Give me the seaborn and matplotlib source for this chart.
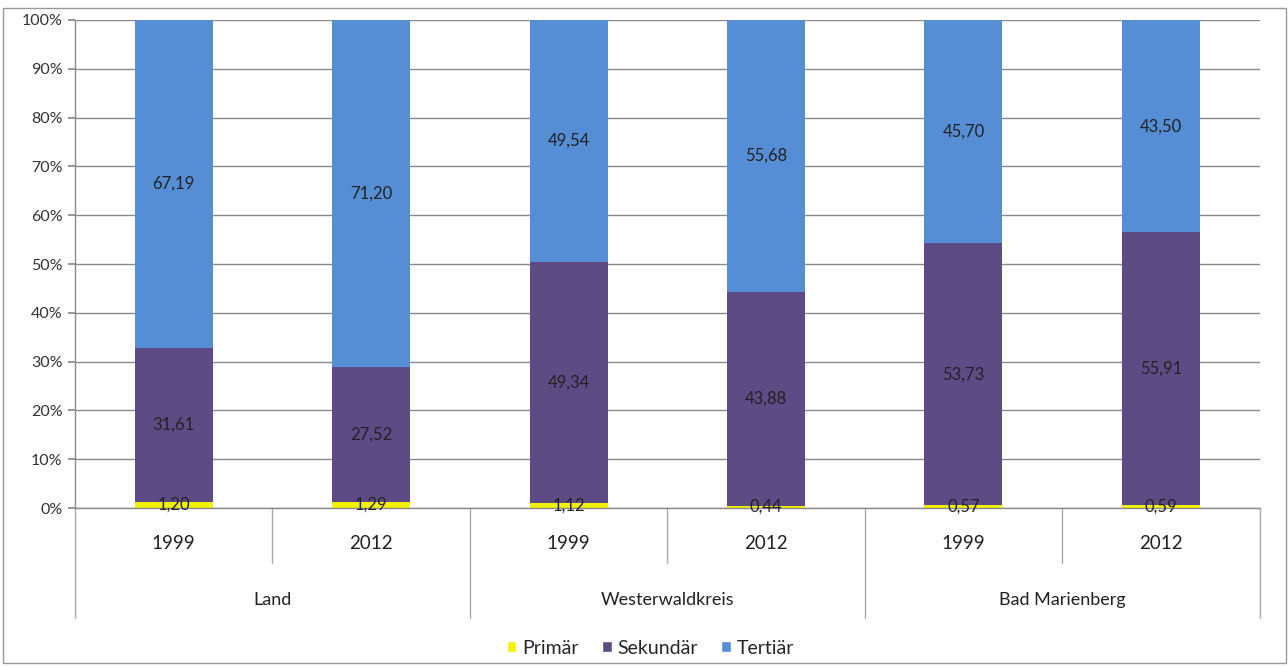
import numpy as np
import pandas as pd
import matplotlib
matplotlib.use("Agg")
import matplotlib.pyplot as plt
import matplotlib.transforms as mtransforms
from matplotlib.patches import Patch, Rectangle
import seaborn as sns

sns.set_theme(style="white")
plt.rcParams["font.family"] = ["Lato", "DejaVu Sans"]

groups = ["Land", "Westerwaldkreis", "Bad Marienberg"]
years = ["1999", "2012", "1999", "2012", "1999", "2012"]
primaer = [1.20, 1.29, 1.12, 0.44, 0.57, 0.59]
sekundaer = [31.61, 27.52, 49.34, 43.88, 53.73, 55.91]
tertiaer = [67.19, 71.20, 49.54, 55.68, 45.70, 43.50]
series = ["Primär", "Sekundär", "Tertiär"]
colors = ["#F2F200", "#5E4A84", "#558ED5"]

df = pd.DataFrame({"pos": range(6), "Primär": primaer,
                   "Sekundär": sekundaer, "Tertiär": tertiaer})
cum = df[series].cumsum(axis=1)

fig = plt.figure(figsize=(12.88, 6.66), dpi=100)
ax = fig.add_axes([0.0582, 0.2372, 0.9198, 0.7328])

# draw cumulative bars, tallest first so smaller ones sit on top
for s, c in zip(series[::-1], colors[::-1]):
    sns.barplot(x=df["pos"], y=cum[s], color=c, width=0.395,
                saturation=1, ax=ax, linewidth=0, zorder=2)

# segment labels
for i in range(6):
    bottom = 0
    for s in series:
        v = df.loc[i, s]
        ax.text(i, bottom + v / 2, f"{v:.2f}".replace(".", ","),
                ha="center", va="center", fontsize=12, color="#222222", zorder=3)
        bottom += v

ax.set_xlim(-0.5, 5.5)
ax.set_ylim(0, 100)
ax.set_yticks(np.arange(0, 101, 10))
ax.set_yticklabels([f"{t}%" for t in range(0, 101, 10)], fontsize=11.5, color="#333333")
ax.yaxis.grid(True, color="#8a8a8a", linewidth=1)
ax.set_axisbelow(True)
ax.tick_params(axis="y", length=5, color="#8a8a8a", left=True, pad=4)
ax.set_xticks([])
ax.set_xlabel("")
ax.set_ylabel("")
for sp in ["top", "right"]:
    ax.spines[sp].set_visible(False)
for sp in ["left", "bottom"]:
    ax.spines[sp].set_color("#8a8a8a")
    ax.spines[sp].set_linewidth(1)

trans = mtransforms.blended_transform_factory(ax.transData, ax.transAxes)
# separators of the two-level category axis
for x in [-0.5, 1.5, 3.5, 5.5]:
    ax.plot([x, x], [0, -0.225], transform=trans, color="#aaaaaa",
            linewidth=1, clip_on=False)
for x in [0.5, 2.5, 4.5]:
    ax.plot([x, x], [0, -0.113], transform=trans, color="#aaaaaa",
            linewidth=1, clip_on=False)
for i, y in enumerate(years):
    ax.text(i, -0.072, y, transform=trans, ha="center", va="center",
            fontsize=13.5, color="#222222")
for g, name in enumerate(groups):
    ax.text(2 * g + 0.5, -0.189, name, transform=trans, ha="center",
            va="center", fontsize=13, color="#222222")

handles = [Patch(facecolor=c, label=s) for s, c in zip(series, colors)]
fig.legend(handles=handles, loc="center", bbox_to_anchor=(0.505, 0.027),
           ncol=3, frameon=False, fontsize=14, handlelength=0.5,
           handleheight=0.5, handletextpad=0.3, columnspacing=1.2)

fig.patches.append(Rectangle((3 / 1288, 3 / 666), 1283 / 1288, 655 / 666,
                             transform=fig.transFigure, fill=False,
                             edgecolor="#999999", linewidth=1))

fig.savefig("out.png", dpi=100)
